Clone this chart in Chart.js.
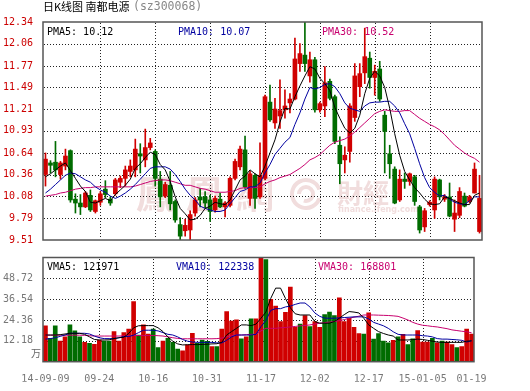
<!DOCTYPE html>
<html>
<head>
<meta charset="utf-8">
<script src="https://cdn.jsdelivr.net/npm/chart.js@4.4.1/dist/chart.umd.min.js"></script>
<style>
  html, body { margin: 0; padding: 0; background: #fff; }
  #wrap { position: relative; width: 530px; height: 391px; }
  #wrap canvas { position: absolute; left: 0; top: 0; }
</style>
</head>
<body>
<div id="wrap">
  <canvas id="priceChart" width="530" height="391"></canvas>
  <canvas id="volChart" width="530" height="391"></canvas>
</div>
<script>
// trading days shown on the chart
const dates = [
  '14-09-09','14-09-10','14-09-11','14-09-12','14-09-15','14-09-16','14-09-17','14-09-18','14-09-19','14-09-22',
  '14-09-23','14-09-24','14-09-25','14-09-26','14-09-29','14-09-30','14-10-08','14-10-09','14-10-10','14-10-13',
  '14-10-14','14-10-15','14-10-16','14-10-17','14-10-20','14-10-21','14-10-22','14-10-23','14-10-24','14-10-27',
  '14-10-28','14-10-29','14-10-30','14-10-31','14-11-03','14-11-04','14-11-05','14-11-06','14-11-07','14-11-10',
  '14-11-11','14-11-12','14-11-13','14-11-14','14-11-17','14-11-18','14-11-19','14-11-20','14-11-21','14-11-24',
  '14-11-25','14-11-26','14-11-27','14-11-28','14-12-01','14-12-02','14-12-03','14-12-04','14-12-05','14-12-08',
  '14-12-09','14-12-10','14-12-11','14-12-12','14-12-15','14-12-16','14-12-17','14-12-18','14-12-19','14-12-22',
  '14-12-23','14-12-24','14-12-25','14-12-26','14-12-29','14-12-30','14-12-31','15-01-05','15-01-06','15-01-07',
  '15-01-08','15-01-09','15-01-12','15-01-13','15-01-14','15-01-15','15-01-16','15-01-19'
];
const xTickIdx = [0, 11, 22, 33, 44, 55, 66, 77, 87];
const xTickText = ['14-09-09','09-24','10-16','10-31','11-17','12-02','12-17','15-01-05','01-19'];

const opens = [
  10.36,10.51,10.52,10.36,10.47,10.67,10.04,9.99,9.94,10.09, 9.88,10.00,10.17,10.04,10.11,10.26,10.31,10.40,10.42,10.63,
  10.55,10.71,10.66,10.30,10.08,10.22,10.01,9.71,9.63,9.64, 9.86,10.07,10.07,10.03,9.90,10.04,9.94,9.96,10.31,10.46,
  10.68,10.05,10.35,10.07,10.31,11.30,11.03,11.12,11.20,11.29, 11.34,11.80,11.91,11.64,11.85,11.20,11.25,11.57,11.37,10.74,
  10.55,10.66,11.10,11.50,11.68,11.87,11.62,11.73,11.13,10.63, 10.43,10.03,10.30,10.27,10.33,9.94,9.68,9.97,9.90,10.29,
  10.04,10.07,9.78,9.83,10.08,10.01,10.12,9.62
];
const highs = [
  10.64,10.54,10.79,10.53,10.69,10.68,10.11,10.10,10.14,10.16, 10.03,10.14,10.28,10.07,10.31,10.34,10.47,10.55,10.82,10.76,
  10.95,10.83,10.68,10.40,10.26,10.40,10.03,9.80,9.78,9.89, 10.06,10.18,10.14,10.09,10.08,10.12,10.01,10.33,10.56,10.73,
  10.86,10.40,10.37,10.77,11.39,11.52,11.35,11.59,11.46,11.41, 12.13,12.06,12.34,11.95,11.88,11.30,11.76,11.60,11.39,10.85,
  10.72,11.28,11.80,11.80,12.26,11.95,11.78,11.83,11.18,10.74, 10.46,10.42,10.38,10.38,10.35,9.96,9.92,10.02,10.33,10.30,
  10.10,10.25,10.03,10.19,10.12,10.09,10.51,10.35
];
const lows = [
  10.21,10.38,10.33,10.30,10.42,10.00,9.86,9.84,9.93,9.88, 9.86,9.96,10.06,9.96,10.09,10.19,10.21,10.33,10.33,10.38,
  10.46,10.68,10.21,9.94,10.06,9.90,9.74,9.51,9.56,9.51, 9.82,9.94,9.93,9.75,9.87,9.93,9.81,9.94,10.29,10.42,
  10.18,9.96,9.92,10.05,10.29,11.05,10.96,10.96,11.09,11.16, 11.33,11.70,11.70,11.56,11.17,11.17,11.11,11.33,10.76,10.24,
  10.38,10.52,11.05,11.37,11.54,11.48,11.39,11.31,10.38,10.31, 9.98,10.01,10.18,10.22,9.96,9.60,9.62,9.95,9.79,10.03,
  10.01,9.81,9.62,9.80,9.94,9.99,10.12,9.60
];
const closes = [
  10.56,10.48,10.42,10.51,10.60,10.03,9.99,9.94,10.12,9.90, 10.02,10.11,10.10,9.99,10.29,10.31,10.42,10.47,10.69,10.60,
  10.71,10.77,10.31,10.07,10.23,9.98,9.77,9.56,9.70,9.84, 10.03,10.03,9.99,9.88,10.05,9.94,9.99,10.31,10.53,10.69,
  10.20,10.37,10.05,10.35,11.37,11.07,11.21,11.19,11.25,11.34, 11.86,11.93,11.80,11.85,11.20,11.28,11.55,11.35,10.79,10.50,
  10.61,11.25,11.64,11.67,11.89,11.62,11.70,11.34,10.92,10.50, 9.99,10.30,10.27,10.37,10.01,9.64,9.89,10.00,10.30,10.07,
  10.07,9.82,9.86,10.14,9.95,10.07,10.43,10.05
];
const pma5 = [
  10.33,10.37,10.42,10.47,10.51,10.41,10.31,10.21,10.14,10.00, 9.99,10.02,10.05,10.02,10.10,10.16,10.22,10.30,10.44,10.50,
  10.58,10.65,10.62,10.49,10.42,10.27,10.07,9.92,9.85,9.77, 9.78,9.83,9.92,9.95,10.00,9.98,9.97,10.03,10.16,10.29,
  10.34,10.42,10.37,10.33,10.47,10.64,10.81,11.04,11.22,11.21, 11.37,11.51,11.64,11.76,11.73,11.61,11.54,11.45,11.23,11.09,
  10.96,10.90,10.96,11.13,11.41,11.61,11.70,11.64,11.49,11.22, 10.89,10.61,10.40,10.29,10.19,10.12,10.04,9.98,9.97,9.98,
  10.07,10.05,10.02,9.99,9.97,9.97,10.09,10.12
];
const pma10 = [
  10.12,10.17,10.23,10.29,10.35,10.38,10.37,10.33,10.29,10.26, 10.20,10.16,10.13,10.08,10.05,10.08,10.12,10.17,10.23,10.30,
  10.37,10.44,10.46,10.46,10.46,10.43,10.36,10.27,10.17,10.09, 10.03,9.95,9.92,9.90,9.88,9.88,9.90,9.98,10.06,10.14,
  10.16,10.20,10.20,10.25,10.38,10.49,10.62,10.70,10.78,10.84, 11.01,11.16,11.34,11.49,11.47,11.49,11.53,11.54,11.50,11.41,
  11.29,11.22,11.20,11.18,11.25,11.29,11.30,11.30,11.31,11.31, 11.25,11.16,11.02,10.89,10.70,10.50,10.32,10.19,10.13,10.08,
  10.09,10.04,10.00,9.98,9.97,10.02,10.07,10.07
];
const pma30 = [
  10.08,10.09,10.10,10.12,10.13,10.15,10.17,10.18,10.19,10.19, 10.20,10.20,10.20,10.20,10.20,10.20,10.20,10.20,10.21,10.23,
  10.25,10.27,10.28,10.29,10.29,10.28,10.26,10.24,10.22,10.22, 10.20,10.18,10.17,10.15,10.13,10.13,10.13,10.14,10.15,10.18,
  10.19,10.19,10.19,10.20,10.24,10.27,10.29,10.32,10.34,10.36, 10.40,10.44,10.49,10.55,10.58,10.62,10.68,10.74,10.78,10.80,
  10.82,10.86,10.91,10.97,11.03,11.09,11.15,11.18,11.20,11.19, 11.18,11.18,11.19,11.19,11.14,11.09,11.05,11.01,10.98,10.94,
  10.88,10.81,10.74,10.69,10.64,10.60,10.57,10.52
];
// volume in 万 (10,000)
const volumes = [
  20.9,13.7,20.9,12.1,14.6,21.5,18.0,14.6,11.3,10.8, 10.2,12.7,12.1,12.1,17.6,12.1,17.0,19.1,35.1,15.6,
  21.5,16.2,19.1,8.2,12.1,13.7,11.3,7.4,6.3,9.8, 16.6,10.8,12.7,11.9,8.8,8.8,19.1,29.3,23.8,24.4,
  13.3,14.6,25.0,25.0,66.0,59.7,36.5,32.5,23.4,28.9, 43.6,20.1,22.0,27.0,20.5,23.4,20.1,27.5,29.0,27.0,
  37.4,23.4,25.4,20.1,16.5,16.2,28.5,13.2,16.5,12.0, 11.0,12.5,14.5,16.0,10.0,13.3,18.2,11.5,11.5,13.7,
  11.0,12.0,11.5,10.0,8.2,8.8,19.1,16.2
];
const vma5 = [
  15.6,15.6,15.6,15.8,16.2,16.6,16.6,16.6,16.0,14.5, 13.0,12.7,12.7,12.8,13.5,14.0,14.3,16.5,19.8,21.0,
  21.1,21.1,21.1,19.8,17.6,14.5,12.0,10.4,9.8,9.9, 10.0,10.0,10.1,10.2,10.4,10.5,11.3,15.6,17.6,19.5,
  21.5,21.5,21.1,22.0,25.4,29.0,37.0,43.0,43.0,37.0, 31.5,28.0,27.3,27.3,27.3,23.5,22.5,22.5,22.5,23.5,
  25.4,27.5,29.3,29.0,28.5,25.4,21.5,19.5,17.6,16.5, 15.6,15.0,12.7,12.7,12.7,12.9,13.2,13.0,12.5,12.0,
  11.5,11.3,11.3,11.3,11.3,11.3,12.0,12.2
];
const vma10 = [
  13.2,13.5,14.0,14.8,15.6,16.6,16.6,16.6,16.6,16.2, 15.0,14.0,13.5,13.5,13.5,14.0,14.7,14.7,15.5,17.0,
  18.4,18.4,18.4,18.0,17.0,16.0,15.6,14.5,13.0,12.0, 11.5,11.3,11.3,11.3,11.3,11.0,11.0,12.5,14.5,15.6,
  15.6,15.6,15.6,16.0,20.5,24.0,30.0,31.0,31.0,32.0, 32.5,33.5,34.3,34.3,32.0,28.5,26.5,25.5,25.4,25.4,
  25.6,25.8,26.0,26.2,26.2,26.2,25.0,23.0,22.0,21.0, 19.5,17.5,16.0,15.6,15.6,15.6,15.6,15.2,15.0,14.5,
  13.5,13.2,13.2,13.0,12.8,12.5,11.5,12.2
];
const vma30 = [
  15.5,15.5,15.5,15.5,15.5,15.5,15.5,15.5,15.4,15.2, 15.0,15.0,15.0,15.0,15.0,15.0,15.1,15.2,15.3,15.3,
  15.3,15.3,15.3,15.2,15.0,14.5,14.0,13.6,13.4,13.4, 13.4,13.4,13.4,13.4,13.4,13.5,13.8,14.5,15.2,15.6,
  15.6,15.8,16.0,16.0,18.0,19.5,19.5,19.5,19.8,20.0, 20.3,20.6,21.0,21.2,21.5,22.0,22.5,22.8,23.2,23.5,
  24.0,24.6,25.4,26.0,26.6,27.3,27.3,27.3,27.2,27.1, 27.0,26.8,26.5,25.5,24.4,23.0,22.0,21.3,21.0,20.6,
  20.3,19.8,19.3,18.6,18.2,17.8,17.5,16.9
];
const priceTicks = [9.51, 9.79, 10.08, 10.36, 10.64, 10.93, 11.21, 11.49, 11.77, 12.06, 12.34];
const volTicks = [0, 12.18, 24.36, 36.54, 48.72, 60.9];

const RED = '#d00000', GREEN = '#006c00';
const MONO = '"DejaVu Sans Mono", monospace';
const barColors = opens.map((o, i) => closes[i] >= o ? RED : GREEN);

// dotted grid drawn from the chart's own scales
function drawDottedGrid(chart, yTicks) {
  const a = chart.chartArea, c = chart.ctx;
  const xs = chart.scales.x, ys = chart.scales.y;
  c.save();
  c.fillStyle = '#222';
  yTicks.slice(1, -1).forEach(v => {
    const y = Math.round(ys.getPixelForValue(v));
    for (let x = Math.ceil(a.left) + 1; x < a.right - 1; x += 3) c.fillRect(x, y, 1, 1);
  });
  xTickIdx.slice(1, -1).forEach(i => {
    const x = Math.round(xs.getPixelForValue(i));
    for (let y = Math.ceil(a.top) + 1; y < a.bottom - 1; y += 3) c.fillRect(x, y, 1, 1);
  });
  c.restore();
}

function drawBox(chart) {
  const a = chart.chartArea, c = chart.ctx;
  c.save();
  c.strokeStyle = '#555';
  c.lineWidth = 1.5;
  c.strokeRect(a.left, a.top, a.right - a.left, a.bottom - a.top);
  c.restore();
}

const priceDeco = {
  id: 'priceDeco',
  beforeDatasetsDraw(chart) {
    // faint ifeng watermark
    const c = chart.ctx;
    c.save();
    c.fillStyle = '#f1dddd';
    c.textBaseline = 'middle';
    c.font = 'bold 38px "Noto Sans CJK TC"';
    ['鳳', '凰', '網'].forEach((ch, k) => c.fillText(ch, 136 + k * 50, 194));
    c.strokeStyle = '#f1dddd';
    c.lineWidth = 4;
    c.beginPath(); c.arc(306, 194, 14, 0.3, Math.PI * 1.9); c.stroke();
    c.beginPath(); c.arc(306, 194, 7, Math.PI, Math.PI * 2.6); c.stroke();
    c.font = 'bold 26px "Noto Sans CJK TC"';
    c.fillText('財經', 337, 193);
    c.font = 'bold 8px "DejaVu Sans"';
    c.fillText('finance.ifeng.com', 338, 210);
    c.restore();
    drawDottedGrid(chart, priceTicks);
  },
  afterDraw(chart) {
    drawBox(chart);
    const c = chart.ctx;
    c.save();
    c.textBaseline = 'middle';
    c.font = '10px ' + MONO;
    c.fillStyle = '#000'; c.fillText('PMA5: 10.12', 47, 32);
    c.fillStyle = '#0000a0'; c.fillText('PMA10: 10.07', 178, 32);
    c.fillStyle = '#c8006e'; c.fillText('PMA30: 10.52', 322, 32);
    c.font = '11px "Noto Sans CJK SC"';
    c.fillStyle = '#000'; c.fillText('日K线图 南都电源', 43, 7);
    c.font = '11.5px ' + MONO;
    c.fillStyle = '#888'; c.fillText('(sz300068)', 133, 7);
    c.restore();
  }
};

const volDeco = {
  id: 'volDeco',
  beforeDatasetsDraw(chart) {
    drawDottedGrid(chart, volTicks);
  },
  afterDraw(chart) {
    drawBox(chart);
    const c = chart.ctx;
    c.save();
    c.textBaseline = 'middle';
    c.font = '10px ' + MONO;
    c.fillStyle = '#000'; c.fillText('VMA5: 121971', 47, 267.5);
    c.fillStyle = '#0000a0'; c.fillText('VMA10: 122338', 176, 267.5);
    c.fillStyle = '#c8006e'; c.fillText('VMA30: 168801', 318, 267.5);
    c.font = '10px "Noto Sans CJK SC"';
    c.fillStyle = '#666'; c.textAlign = 'right'; c.fillText('万', 41, 353);
    c.restore();
  }
};

const lineDs = (data, color) => ({
  type: 'line', data, borderColor: color, borderWidth: 1, pointRadius: 0, tension: 0, order: 0
});

// price panel
try {
  new Chart(document.getElementById('priceChart'), {
    type: 'bar',
    data: {
      labels: dates,
      datasets: [
        lineDs(pma5, '#000000'),
        lineDs(pma10, '#0000a0'),
        lineDs(pma30, '#c8006e'),
        { type: 'bar', data: opens.map((o, i) => [o, closes[i]]), backgroundColor: barColors,
          barThickness: 4, minBarLength: 1, grouped: false, order: 1 },
        { type: 'bar', data: lows.map((l, i) => [l, highs[i]]), backgroundColor: barColors,
          barThickness: 1, grouped: false, order: 2 }
      ]
    },
    options: {
      responsive: false, animation: false, devicePixelRatio: 1,
      layout: { padding: { top: 22, right: 48, bottom: 151, left: 0 } },
      plugins: { legend: { display: false }, tooltip: { enabled: false } },
      scales: {
        x: {
          offset: true,
          grid: { display: false },
          border: { display: false },
          ticks: { display: false, autoSkip: false },
          afterFit: s => { s.height = 0; }
        },
        y: {
          min: 9.51, max: 12.34,
          afterBuildTicks: s => { s.ticks = priceTicks.map(v => ({ value: v })); },
          ticks: { color: '#cc0000', font: { family: MONO, size: 10 }, padding: 2,
                   callback: v => v.toFixed(2) },
          grid: { display: false },
          border: { display: false },
          afterFit: s => { s.width = 43; }
        }
      }
    },
    plugins: [priceDeco]
  });
} catch (e) { console.error('price chart failed', e); }

// volume panel
try {
  new Chart(document.getElementById('volChart'), {
    type: 'bar',
    data: {
      labels: dates,
      datasets: [
        lineDs(vma5, '#000000'),
        lineDs(vma10, '#0000a0'),
        lineDs(vma30, '#c8006e'),
        { type: 'bar', data: volumes, backgroundColor: barColors, barThickness: 4, order: 1 }
      ]
    },
    options: {
      responsive: false, animation: false, devicePixelRatio: 1,
      layout: { padding: { top: 257.5, right: 56, bottom: 9.3, left: 0 } },
      plugins: { legend: { display: false }, tooltip: { enabled: false } },
      scales: {
        x: {
          offset: true,
          grid: { display: false },
          border: { display: false },
          ticks: {
            autoSkip: false, maxRotation: 0, padding: 4, color: '#777',
            font: { family: MONO, size: 10 },
            callback: (v, i) => { const k = xTickIdx.indexOf(i); return k >= 0 ? xTickText[k] : ''; }
          },
          afterFit: s => { s.height = 20; }
        },
        y: {
          min: 0, max: 60.9,
          afterBuildTicks: s => { s.ticks = volTicks.map(v => ({ value: v })); },
          ticks: { color: '#777', font: { family: MONO, size: 10 }, padding: 2,
                   callback: v => (v === 0 || v === 60.9) ? '' : v.toFixed(2) },
          grid: { display: false },
          border: { display: false },
          afterFit: s => { s.width = 43; }
        }
      }
    },
    plugins: [volDeco]
  });
} catch (e) { console.error('volume chart failed', e); }
</script>
</body>
</html>
